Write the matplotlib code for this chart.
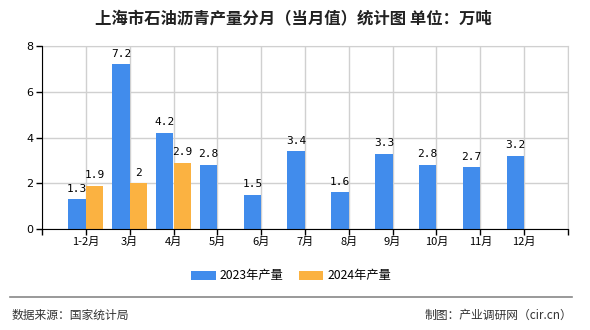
import matplotlib
matplotlib.use("Agg")
import matplotlib.pyplot as plt
import numpy as np

plt.rcParams['font.family'] = ['Noto Sans CJK SC', 'DejaVu Sans']

##### data ######
months = ["1-2月", "3月", "4月", "5月", "6月", "7月", "8月", "9月", "10月", "11月", "12月"]
prod_2023 = [1.3, 7.2, 4.2, 2.8, 1.5, 3.4, 1.6, 3.3, 2.8, 2.7, 3.2]
prod_2024 = [1.9, 2.0, 2.9]
y_ticks = [0, 2, 4, 6, 8]
#################

BLUE = "#418CEC"
ORANGE = "#FBB241"
W = 0.4

fig = plt.figure(figsize=(5.9, 3.3), dpi=100)
ax = fig.add_axes([42/590, 1-229/330, (568-42)/590, (229-46)/330])

x = np.arange(len(months))
x24 = np.arange(len(prod_2024))
b1 = ax.bar(x - W/2, prod_2023, W, color=BLUE, label="2023年产量", zorder=3)
b2 = ax.bar(x24 + W/2, prod_2024, W, color=ORANGE, label="2024年产量", zorder=3)

for xs, vals in ((x - W/2, prod_2023), (x24 + W/2, prod_2024)):
    for xi, v in zip(xs, vals):
        ax.text(xi, v + 0.25, "{0:g}".format(v), ha="center", va="bottom",
                fontsize=8, family="DejaVu Sans Mono", zorder=4)

ax.set_xlim(-1, len(months))
ax.set_ylim(0, 8)
ax.set_xticks(np.arange(-1, len(months) + 1))
ax.set_xticklabels([""] + months + [""], fontsize=8)
ax.set_yticks(y_ticks)
ax.set_yticklabels([str(t) for t in y_ticks], fontsize=8, family="DejaVu Sans")
ax.grid(True, color="#d0d0d0", linewidth=1, zorder=0)
ax.tick_params(axis="both", length=4, width=1, color="black", pad=2)
for s in ("top", "right"):
    ax.spines[s].set_color("#d0d0d0")
for s in ("left", "bottom"):
    ax.spines[s].set_color("black")
    ax.spines[s].set_zorder(5)

fig.text(293.5/590, 1-18/330, "上海市石油沥青产量分月（当月值）统计图 单位：万吨",
         ha="center", va="center", fontsize=11.8, fontweight="bold", color="#222222")

fig.legend(handles=[b1, b2], loc="center", bbox_to_anchor=(291/590, 1-276/330),
           ncol=2, frameon=False, fontsize=8.8, handlelength=2.0, handleheight=0.8,
           columnspacing=1.3, handletextpad=0.3)

fig.add_artist(plt.Line2D([10/590, 572/590], [1-297/330, 1-297/330], color="#888888", linewidth=1.2))
fig.text(12/590, 1-315/330, "数据来源：国家统计局", ha="left", va="center", fontsize=8.5, color="#333333")
fig.text(572/590, 1-315/330, "制图：产业调研网（cir.cn）", ha="right", va="center", fontsize=8.5, color="#333333")

fig.savefig("out.png", dpi=100)
